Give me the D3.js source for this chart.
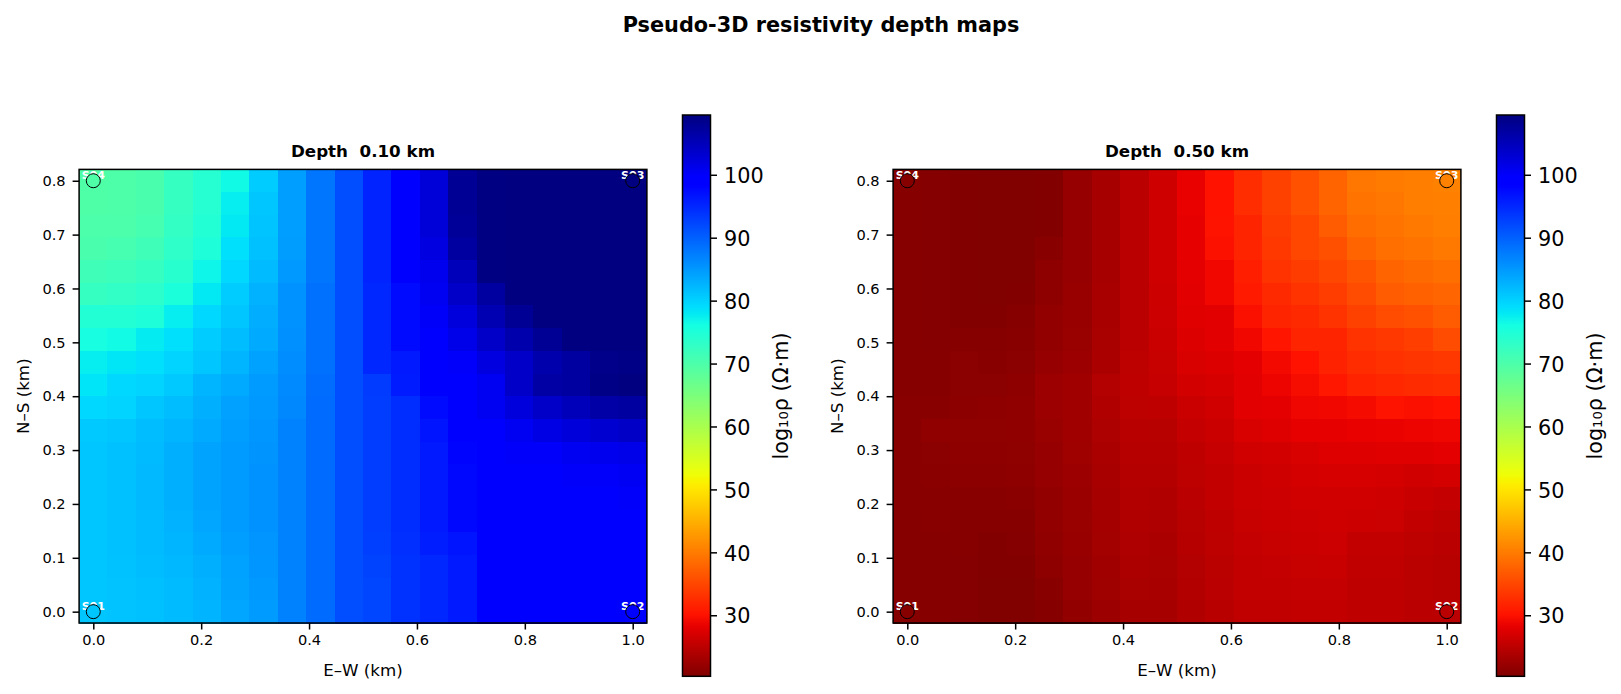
<!DOCTYPE html>
<html>
<head>
<meta charset="utf-8">
<script src="https://cdn.jsdelivr.net/npm/d3@7"></script>
<style>
  html, body { margin: 0; padding: 0; background: #fff; }
  text { font-family: "DejaVu Sans", sans-serif; fill: #000; }
</style>
</head>
<body>
<svg id="chart" width="1621" height="694"></svg>
<script>
// log10 rho values, one list per column (W to E),
// each list runs from the north row (y = 0.8) down to the south row (y = 0)
const depth010 = [
  [69.7,69.7,70,70.4,71.5,72.5,74.5,75.8,77.5,78.3,79.5,80.8,81,81,81,81,81,81,81,81],
  [69.8,69.8,70,70.6,71.8,73,74.5,76.3,78.2,79.5,79.8,81,81.5,81.5,81.5,81.5,81.5,81.4,81.3,81.3],
  [70.4,70.4,70.6,71.5,72.5,73.5,75,77.8,78.8,79.8,81,81.8,82,82.2,82.2,82,82,81.8,81.6,81.5],
  [72.5,72.5,72.8,73.2,74,75.3,77.5,78.8,79.8,80.8,81.8,82.5,83,83,83,82.8,82.5,82.3,82,82],
  [74.2,74.2,74.5,75,76.8,78,79.5,80.5,81,82.5,83,83.5,84,84,84,83.8,83.4,83,82.8,82.6],
  [76.5,77.5,78,78.8,79.5,80.5,81,81.8,82.5,83.5,84.3,84.5,84.8,84.8,84.8,84.8,84.5,84.2,84,83.8],
  [80.5,81,81.2,81.5,82,82.8,83.2,83.5,84.2,84.8,85,85.2,85.4,85.5,85.5,85.5,85.3,85.2,85,84.8],
  [84.5,84.5,84.5,84.6,85,85.5,85.5,85.8,86,86.3,86.5,87,87,87,87,87,87,87,87,87],
  [88,88,88,88,88,88.5,88.5,88.5,88.5,88.8,88.9,89,89,89,89,89,89,89,89,89],
  [91.5,91.5,91.5,91.5,91.5,91.5,91.5,91.5,91.5,91.5,91.5,91.5,91.5,91.5,91.5,91.5,91.5,91.5,91.5,91.5],
  [95.3,95.3,95.3,95.3,95.3,94.9,94.9,94.9,94.9,93.2,93,93,93,93,93,93,92.8,92.5,92.3,92.3],
  [98.5,98.5,98.5,98.5,98.5,97.5,97.5,97.5,96.2,96,94.4,94.4,94.4,94.4,94.4,94.4,94.2,94,94,94],
  [102.6,102.6,102.6,102,101,100.7,100.1,99.5,98.8,98.4,97.5,96.6,96.2,96.2,96.2,96.2,95.8,94.9,94.9,94.9],
  [107.9,107.9,107.6,107,105,103.9,102.4,101.4,100,99.7,99,98.5,98,97.7,97.7,97.7,96.6,96.2,96.2,96.2],
  [109.2,109.2,109.2,109.2,109.2,107,105.6,103.9,102,100.7,100.7,99.5,99,98.8,98.6,98.5,98.4,98.4,98.4,98.4],
  [109.4,109.4,109.4,109.4,109.4,109.4,107.9,106,103.9,103.9,102.4,100.7,100,99.6,99.2,99,98.8,98.7,98.6,98.5],
  [109.5,109.5,109.5,109.5,109.5,109.5,109.4,107.9,106,106.6,103.9,101.8,100,99.6,99.4,99.2,99,98.9,98.8,98.7],
  [109.5,109.5,109.5,109.5,109.5,109.5,109.5,109.4,107,107,105,102.5,100.7,100,99.6,99.4,99.2,99.1,99,99],
  [109.5,109.5,109.5,109.5,109.5,109.5,109.5,109.5,108.6,108.9,106.5,103.2,101,100,99.7,99.5,99.4,99.3,99.2,99.1],
  [109.5,109.5,109.5,109.5,109.5,109.5,109.5,109.5,108.9,109.5,107,104,101.4,100.5,100,99.7,99.6,99.5,99.4,99.3]
];
const depth050 = [
  [20.8,20.8,20.8,20.8,20.8,20.8,20.8,20.8,20.9,20.9,21,21,21,21,21,20.9,20.9,20.8,20.8,20.8],
  [20.7,20.7,20.7,20.7,20.7,20.7,20.7,20.7,20.8,20.9,21,21.6,21.2,21.1,21,21,20.9,20.8,20.8,20.8],
  [20.5,20.5,20.5,20.5,20.5,20.5,20.6,20.8,21.2,21.2,21.3,21.5,21.4,21.3,21,20.9,20.8,20.7,20.7,20.7],
  [20.4,20.4,20.4,20.4,20.4,20.4,20.6,20.9,21,21.2,21.4,21.5,21.4,21.3,21,20.8,20.6,20.5,20.4,20.4],
  [20.4,20.4,20.4,20.4,20.4,20.6,20.9,21,21.2,21.4,21.6,21.6,21.5,21.4,21.1,20.8,20.7,20.6,20.4,20.4],
  [20.5,20.5,20.5,21,21.4,21.4,21.8,21.8,22.1,22.5,22.5,22.3,22.1,22,21.8,21.8,21.6,21.4,21,20.8],
  [22,22,22,22,22.1,22.2,22.2,22.3,22.5,22.9,22.9,22.8,22.7,22.5,22.4,22.3,22.2,22.1,22,21.8],
  [23.3,23.3,23.3,23.3,23.3,23.4,23.4,23.5,23.6,24.3,24,23.8,23.6,23.4,23.3,23.2,23,22.9,22.7,22.5],
  [24.8,24.8,24.8,24.8,24.8,24.8,24.8,24.8,25,25.2,25,24.7,24.5,24.4,24.2,24,23.9,23.7,23.5,23.3],
  [26.4,26.4,26.4,26.4,26.4,26.3,26.2,26,25.8,25.7,25.2,24.6,24.5,24.4,24,23.9,23.6,23.5,23.4,23.3],
  [28.4,28.4,28.3,28.2,28,27.9,27.7,27.5,27.2,26.7,26,25.6,25.2,25,24.8,24.6,24.5,24.3,24.2,24],
  [30.1,30.1,30,29.9,29,29,27.9,27.9,27.5,27,26.5,26,25.7,25.5,25.4,25.2,25,24.9,24.8,24.7],
  [32.6,32.6,31.7,31.7,31.2,30.8,29.8,29,28,27.9,27.9,27.2,26.5,26,26,25.8,25.6,25.5,25.4,25.3],
  [34.5,34.5,34,33.6,33.1,32.2,31.7,30.3,29.2,28.7,28,27.6,26.7,26.4,26.2,26,25.8,25.6,25.4,25.3],
  [36,36,35,35,34,33.1,32.2,31.7,30.1,29.5,28.9,28.2,27.2,26.8,26.5,26.2,26,25.8,25.6,25.4],
  [37.8,37.8,36.9,35.9,35,34.1,33.1,31.7,31.5,30.5,29,28.2,27.6,27,26.6,26.4,26.2,25.9,25.6,25.4],
  [39.5,39.3,38.6,37.8,36.4,35.5,34.5,33.1,32.5,31.6,29.4,28.4,27.6,27,26.6,26.3,25.4,25.3,25.2,25.2],
  [39.9,39.6,39.2,38.8,37.8,36.9,35.5,33.6,33,32,30,28.5,27.7,26.8,26.4,26.1,25.4,25.3,25.2,25.1],
  [40.2,40.2,39.8,39.2,38.3,37.4,36,34.2,33.3,32.4,29.8,28.7,27.7,26.6,25.9,25.4,25,24.9,24.9,24.8],
  [40.5,40.4,40.2,39.7,38.8,37.9,36.9,35.5,33.6,32.6,30.1,28.9,28,26.8,25.6,25,24.8,24.6,24.6,24.8]
];

const panelTitles = ["Depth  0.10 km", "Depth  0.50 km"];
const xGrid = d3.range(20).map(i => i / 19);
const yGrid = d3.range(20).map(i => 0.8 - i * 0.8 / 19);
const xTicks = [0, 0.2, 0.4, 0.6, 0.8, 1.0];
const yTicks = [0, 0.1, 0.2, 0.3, 0.4, 0.5, 0.6, 0.7, 0.8];
const barTicks = [30, 40, 50, 60, 70, 80, 90, 100];
const stationNames = ["S01", "S02", "S03", "S04"];
const stationX = [0, 1, 1, 0];
const stationY = [0, 0, 0.8, 0.8];
const stationVals010 = [81, 99.3, 109.5, 69.7];
const stationVals050 = [20.8, 24.8, 40.5, 20.8];

const VMIN = 20.3, VMAX = 109.5;
const DX = 1 / 19, DY = 0.8 / 19;

// matplotlib jet, reversed by the colour function below
function jet(t) {
  const r = d3.scaleLinear().domain([0, 0.35, 0.66, 0.89, 1]).range([0, 0, 1, 1, 0.5]).clamp(true)(t);
  const g = d3.scaleLinear().domain([0, 0.125, 0.375, 0.64, 0.91, 1]).range([0, 0, 1, 1, 0, 0]).clamp(true)(t);
  const b = d3.scaleLinear().domain([0, 0.11, 0.34, 0.65, 1]).range([0.5, 1, 1, 0, 0]).clamp(true)(t);
  return d3.rgb(r * 255, g * 255, b * 255).formatHex();
}
const color = v => jet(1 - (v - VMIN) / (VMAX - VMIN));

const svg = d3.select("#chart");

svg.append("text")
  .attr("x", 821).attr("y", 31.5)
  .attr("text-anchor", "middle")
  .attr("font-size", 20.8).attr("font-weight", "bold")
  .text("Pseudo-3D resistivity depth maps");

function drawPanel(offset, values, title, stationVals, gid) {
  const x = d3.scaleLinear().domain([-DX / 2, 1 + DX / 2]).range([79.1 + offset, 646.9 + offset]);
  const y = d3.scaleLinear().domain([-DY / 2, 0.8 + DY / 2]).range([623, 169.4]);
  const g = svg.append("g");

  const cols = g.selectAll("g.col").data(values).enter().append("g").attr("class", "col");
  cols.selectAll("rect")
    .data((col, i) => col.map((v, j) => ({ v, i, j })))
    .enter().append("rect")
    .attr("shape-rendering", "crispEdges")
    .attr("x", d => x(xGrid[d.i] - DX / 2))
    .attr("y", d => y(yGrid[d.j] + DY / 2))
    .attr("width", x(DX) - x(0) + 0.5)
    .attr("height", y(0) - y(DY) + 0.5)
    .attr("fill", d => color(d.v));

  // labels go under the markers, the circle covers part of them
  g.selectAll("text.st").data(stationNames).enter().append("text")
    .attr("class", "st")
    .attr("x", (d, i) => x(stationX[i]))
    .attr("y", (d, i) => y(stationY[i]) - 2)
    .attr("text-anchor", "middle")
    .attr("font-size", 11).attr("font-weight", "bold")
    .style("fill", "#fff")
    .text(d => d);
  g.selectAll("circle").data(stationNames).enter().append("circle")
    .attr("cx", (d, i) => x(stationX[i]))
    .attr("cy", (d, i) => y(stationY[i]))
    .attr("r", 7)
    .attr("fill", (d, i) => color(stationVals[i]))
    .attr("stroke", "#000").attr("stroke-width", 1);

  g.append("rect")
    .attr("x", x.range()[0]).attr("y", y.range()[1])
    .attr("width", x.range()[1] - x.range()[0]).attr("height", y.range()[0] - y.range()[1])
    .attr("fill", "none").attr("stroke", "#000").attr("stroke-width", 1.5);

  const xAxis = g.append("g").attr("transform", `translate(0,${y.range()[0]})`)
    .call(d3.axisBottom(x).tickValues(xTicks).tickFormat(d3.format(".1f")).tickSize(6.5).tickPadding(5.5));
  const yAxis = g.append("g").attr("transform", `translate(${x.range()[0]},0)`)
    .call(d3.axisLeft(y).tickValues(yTicks).tickFormat(d3.format(".1f")).tickSize(6.5).tickPadding(7));
  [xAxis, yAxis].forEach(a => {
    a.select(".domain").remove();
    a.selectAll("line").attr("stroke", "#000").attr("stroke-width", 1.5);
    a.selectAll("text").attr("font-size", 14.6).attr("font-family", "DejaVu Sans");
  });

  g.append("text")
    .attr("x", (x.range()[0] + x.range()[1]) / 2).attr("y", 156.5)
    .attr("text-anchor", "middle")
    .attr("font-size", 16.7).attr("font-weight", "bold")
    .attr("xml:space", "preserve").style("white-space", "pre")
    .text(title);
  g.append("text")
    .attr("x", (x.range()[0] + x.range()[1]) / 2).attr("y", 676)
    .attr("text-anchor", "middle").attr("font-size", 16.7)
    .text("E–W (km)");
  g.append("text")
    .attr("transform", `translate(${28.5 + offset},${(y.range()[0] + y.range()[1]) / 2}) rotate(-90)`)
    .attr("text-anchor", "middle").attr("font-size", 16.7)
    .text("N–S (km)");

  // colour bar
  const bar = d3.scaleLinear().domain([VMIN, VMAX]).range([676.3, 115]);
  const barX = 682.5 + offset, barW = 28;
  const grad = svg.append("defs").append("linearGradient").attr("id", gid)
    .attr("x1", 0).attr("y1", 1).attr("x2", 0).attr("y2", 0);
  grad.selectAll("stop").data(d3.range(0, 1.0001, 1 / 128)).enter().append("stop")
    .attr("offset", d => d)
    .attr("stop-color", d => jet(1 - d));
  g.append("rect")
    .attr("x", barX).attr("y", bar(VMAX))
    .attr("width", barW).attr("height", bar(VMIN) - bar(VMAX))
    .attr("fill", `url(#${gid})`).attr("stroke", "#000").attr("stroke-width", 1.5);
  const barAxis = g.append("g").attr("transform", `translate(${barX + barW},0)`)
    .call(d3.axisRight(bar).tickValues(barTicks).tickSize(6.5).tickPadding(7));
  barAxis.select(".domain").remove();
  barAxis.selectAll("line").attr("stroke", "#000").attr("stroke-width", 1.5);
  barAxis.selectAll("text").attr("font-size", 20.8).attr("font-family", "DejaVu Sans").attr("dy", "0.37em");
  g.append("text")
    .attr("transform", `translate(${788 + offset},396) rotate(-90)`)
    .attr("text-anchor", "middle").attr("font-size", 20.8)
    .text("log₁₀ρ (Ω·m)");
}

drawPanel(0, depth010, panelTitles[0], stationVals010, "barA");
drawPanel(814, depth050, panelTitles[1], stationVals050, "barB");
</script>
</body>
</html>
